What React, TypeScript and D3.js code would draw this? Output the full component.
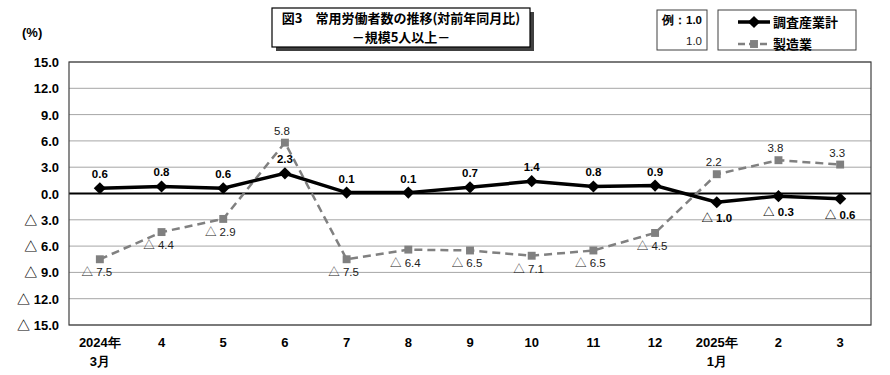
import React from "react";
import * as d3 from "d3";

const categories = ["2024年|3月", "4", "5", "6", "7", "8", "9", "10", "11", "12", "2025年|1月", "2", "3"];
const totalValues = [0.6, 0.8, 0.6, 2.3, 0.1, 0.1, 0.7, 1.4, 0.8, 0.9, -1.0, -0.3, -0.6];
const mfgValues = [-7.5, -4.4, -2.9, 5.8, -7.5, -6.4, -6.5, -7.1, -6.5, -4.5, 2.2, 3.8, 3.3];
const yTicks = [15, 12, 9, 6, 3, 0, -3, -6, -9, -12, -15];
const seriesNames = ["調査産業計", "製造業"];
const titleLines = ["図3　常用労働者数の推移(対前年同月比)", "－規模5人以上－"];

const W = 890, H = 375;
const m = { left: 69, right: 871, top: 62, bottom: 325 };
const font = "'Liberation Sans', Arial, sans-serif";
const cjk = "'Noto Sans CJK JP', 'Liberation Sans', sans-serif";

const Val = ({ v, bold }: { v: number; bold?: boolean }) =>
  v < 0 ? (
    <>
      <tspan fontFamily={cjk} fontWeight={bold ? "bold" : "normal"}>△</tspan>
      <tspan> {Math.abs(v).toFixed(1)}</tspan>
    </>
  ) : (
    <>{v.toFixed(1)}</>
  );

export default function App() {
  const x = d3.scaleBand<number>().domain(categories.map((_, i) => i)).range([m.left, m.right]);
  const cx = (i: number) => (x(i) as number) + x.bandwidth() / 2;
  const y = d3.scaleLinear().domain([-15, 15]).range([m.bottom, m.top]);
  const line = d3.line<number>().x((_, i) => cx(i)).y((d) => y(d));
  const diamond = d3.symbol().type(d3.symbolDiamond2).size(95)() as string;
  const square = d3.symbol().type(d3.symbolSquare2).size(80)() as string;

  return (
    <svg width={W} height={H} style={{ display: "block", position: "absolute", left: 0, top: 0, background: "#fff" }}>
      {yTicks.map((t) => (
        <line key={t} x1={m.left} x2={m.right} y1={y(t)} y2={y(t)} stroke={t === 0 ? "#000" : "#a6a6a6"} strokeWidth={t === 0 ? 2 : 1} />
      ))}
      <rect x={m.left} y={m.top} width={m.right - m.left} height={m.bottom - m.top} fill="none" stroke="#404040" strokeWidth={1.2} />
      {yTicks.map((t) => (
        <text key={t} x={59} y={y(t) + 5} textAnchor="end" fontFamily={font} fontSize={13} fontWeight="bold" fill="#000">
          <Val v={t} bold />
        </text>
      ))}
      <text x={22} y={37} fontFamily={font} fontSize={13} fontWeight="bold">(%)</text>
      {categories.map((c, i) => {
        const parts = c.split("|");
        return (
          <g key={i}>
            <text x={cx(i)} y={347} textAnchor="middle" fontFamily={font} fontSize={13} fontWeight="bold">{parts[0]}</text>
            {parts[1] && (
              <text x={cx(i)} y={366} textAnchor="middle" fontFamily={font} fontSize={13} fontWeight="bold">{parts[1]}</text>
            )}
          </g>
        );
      })}
      <path d={line(mfgValues) as string} fill="none" stroke="#808080" strokeWidth={2.5} strokeDasharray="8,5" />
      {mfgValues.map((v, i) => (
        <path key={i} d={square} transform={`translate(${cx(i)},${y(v)})`} fill="#808080" />
      ))}
      <path d={line(totalValues) as string} fill="none" stroke="#000" strokeWidth={3.5} />
      {totalValues.map((v, i) => (
        <path key={i} d={diamond} transform={`translate(${cx(i)},${y(v)})`} fill="#000" />
      ))}
      {mfgValues.map((v, i) => (
        <text key={i} x={cx(i) - 3} y={v < 0 ? y(v) + 17 : y(v) - 8} textAnchor="middle" fontFamily={font} fontSize={11.5} fill="#222">
          <Val v={v} />
        </text>
      ))}
      {totalValues.map((v, i) => (
        <text key={i} x={cx(i)} y={v < 0 ? y(v) + 20 : y(v) - 10} textAnchor="middle" fontFamily={font} fontSize={11.5} fontWeight="bold" fill="#000">
          <Val v={v} bold />
        </text>
      ))}
      <rect x={276} y={12} width={258} height={39} fill="#404040" />
      <rect x={272} y={8} width={258} height={39} fill="#fff" stroke="#000" strokeWidth={1.2} />
      <text x={401} y={23} textAnchor="middle" fontFamily={cjk} fontSize={13} fontWeight="bold">{titleLines[0]}</text>
      <text x={401} y={42} textAnchor="middle" fontFamily={cjk} fontSize={13} fontWeight="bold">{titleLines[1]}</text>
      <rect x={657} y={10} width={50} height={40} fill="#fff" stroke="#404040" />
      <text x={702} y={24} textAnchor="end" fontFamily={font} fontSize={11.5} fontWeight="bold">例：1.0</text>
      <text x={702} y={45} textAnchor="end" fontFamily={font} fontSize={11.5} fill="#222">1.0</text>
      <rect x={718} y={10} width={138} height={40} fill="#fff" stroke="#404040" />
      <line x1={738} x2={770} y1={22} y2={22} stroke="#000" strokeWidth={3.5} />
      <path d={diamond} transform="translate(754,22)" fill="#000" />
      <text x={773} y={27} fontFamily={cjk} fontSize={13} fontWeight="bold">{seriesNames[0]}</text>
      <line x1={738} x2={770} y1={44} y2={44} stroke="#808080" strokeWidth={2.5} strokeDasharray="7,4" />
      <path d={square} transform="translate(754,44)" fill="#808080" />
      <text x={773} y={49} fontFamily={cjk} fontSize={13} fontWeight="bold">{seriesNames[1]}</text>
    </svg>
  );
}
